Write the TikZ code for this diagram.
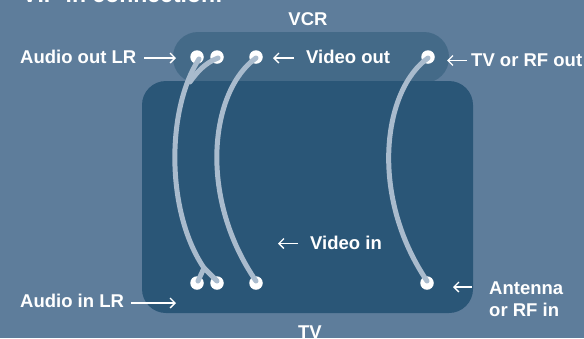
\documentclass[tikz,border=0pt]{standalone}
\usepackage{fontspec}
\setmainfont{Liberation Sans}
\usetikzlibrary{arrows.meta}
\definecolor{bgc}{HTML}{5E7D9B}
\definecolor{vcrc}{HTML}{446A88}
\definecolor{tvc}{HTML}{2A5677}
\definecolor{cablec}{HTML}{A9BBCD}
\tikzset{
  x=1pt,y=-1pt,
  lab/.style={text=white,font=\bfseries\fontsize{18.5}{22}\selectfont,inner sep=0pt,align=left},
  ttl/.style={text=white,font=\bfseries\fontsize{23}{27}\selectfont,inner sep=0pt},
  jack/.style={circle,fill=white,minimum size=13.5pt,inner sep=0pt},
  cable/.style={draw=cablec,line width=5pt,line cap=round},
  pointer/.style={draw=white,line width=1.3pt,-{Straight Barb[length=5pt,width=10pt,line width=1.3pt]}},
}
\begin{document}
\begin{tikzpicture}
\useasboundingbox (0,0) rectangle (584,338);
\fill[bgc] (0,0) rectangle (584,338);
\fill[vcrc,rounded corners=25pt] (173,32) rectangle (449,83);
\fill[tvc,rounded corners=24pt] (142,81) rectangle (473,313);
\node[ttl,anchor=base west] (title) at (22,2) {VIP in connection:};
\node[lab,anchor=base] (vcr) at (308,25) {VCR};
\node[lab,anchor=base] (tv) at (310,338) {TV};
\node[lab,anchor=base west] (aout) at (20,63) {Audio out LR};
\node[lab,anchor=base west] (vout) at (306,63) {Video out};
\node[lab,anchor=base west] (rfout) at (471,66) {TV or RF out};
\node[lab,anchor=base west] (vin) at (310,249) {Video in};
\node[lab,anchor=base west] (ain) at (20,307) {Audio in LR};
\node[lab,anchor=base west] (ant) at (489,294) {Antenna};
\node[lab,anchor=base west] (orf) at (489,316) {or RF in};
\foreach \n/\x/\y in {a/197/57,b/217/57,c/256/57,d/428/57,e/197/283,f/217/283,g/256/283,h/427/283}
  \node[jack] (\n) at (\x,\y) {};
\coordinate (a1) at (199,59);\coordinate (b1) at (218,58);\coordinate (c1) at (256,58);\coordinate (d1) at (428,58);
\coordinate (e1) at (198,281);\coordinate (f1) at (217,281);\coordinate (g1) at (256,281);\coordinate (h1) at (427,281);
\coordinate (fork) at (204,268);\coordinate (merge) at (190,82);
\draw[cable] (a1) .. controls (166,110) and (166,212) .. (fork);
\draw[cable] (fork) -- (e1);
\draw[cable] (fork) -- (f1);
\draw[cable] (b1) .. controls (205,63) and (197,72) .. (merge);
\draw[cable] (c1) .. controls (211,90) and (197,195) .. (g1);
\draw[cable] (d1) .. controls (383,90) and (369,195) .. (h1);
\coordinate (p1s) at (144,58);\coordinate (p1e) at (176,58);
\coordinate (p2s) at (294,58);\coordinate (p2e) at (273,58);
\coordinate (p3s) at (467,60.5);\coordinate (p3e) at (447,60.5);
\coordinate (p4s) at (298,243.5);\coordinate (p4e) at (278,243.5);
\coordinate (p5s) at (131,303);\coordinate (p5e) at (176,303);
\coordinate (p6s) at (472,287);\coordinate (p6e) at (453,287);
\foreach \s/\e in {p1s/p1e,p2s/p2e,p3s/p3e,p4s/p4e,p5s/p5e,p6s/p6e}
  \draw[pointer] (\s) -- (\e);
\end{tikzpicture}
\end{document}
